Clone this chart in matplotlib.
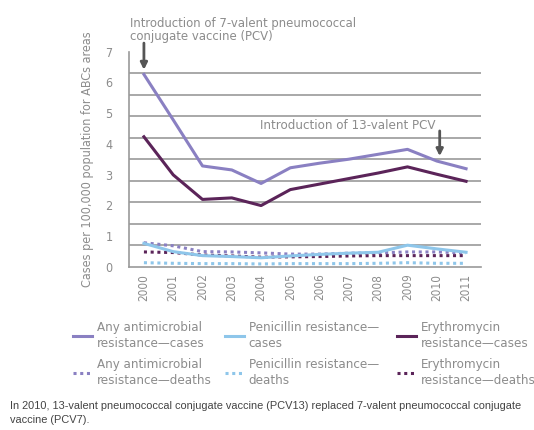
import numpy as np
import matplotlib
matplotlib.use("Agg")
import matplotlib.pyplot as plt
from matplotlib.lines import Line2D

years = [str(y) for y in range(2000, 2012)]

any_cases = [6.26, 4.78, 3.28, 3.15, 2.71, 3.22, 3.37, 3.50, 3.66, 3.82, 3.44, 3.19]
pen_cases = [0.76, 0.49, 0.36, 0.33, 0.29, 0.35, 0.40, 0.44, 0.47, 0.70, 0.58, 0.47]
ery_cases = [4.23, 2.99, 2.19, 2.24, 1.99, 2.51, 2.69, 2.87, 3.05, 3.25, 3.01, 2.78]
any_deaths = [0.78, 0.68, 0.49, 0.48, 0.45, 0.41, 0.41, 0.44, 0.45, 0.48, 0.48, 0.45]
pen_deaths = [0.13, 0.11, 0.10, 0.10, 0.09, 0.10, 0.10, 0.10, 0.11, 0.13, 0.11, 0.11]
ery_deaths = [0.48, 0.46, 0.38, 0.35, 0.31, 0.32, 0.33, 0.35, 0.36, 0.36, 0.36, 0.36]

c_any = "#8a80c2"
c_pen = "#8ec6ea"
c_ery = "#5b2459"
grey = "#8c8c8c"
grid_c = "#9a9a9a"

plt.rcParams['font.family'] = ['DejaVu Sans']
plt.rcParams['font.stretch'] = 'condensed'

fig = plt.figure(figsize=(5.34, 4.30), dpi=100)
ax = fig.add_axes([0.2421, 0.3798, 0.6581, 0.5000])

x = np.arange(len(years))
lw = 2.2
dots = (0, (1, 1.2))
ax.plot(x, any_deaths, color=c_any, lw=lw, ls=dots, zorder=3)
ax.plot(x, ery_deaths, color=c_ery, lw=lw, ls=dots, zorder=3)
ax.plot(x, pen_deaths, color=c_pen, lw=lw, ls=dots, zorder=3)
ax.plot(x, pen_cases, color=c_pen, lw=lw, zorder=4)
ax.plot(x, ery_cases, color=c_ery, lw=lw, zorder=4)
ax.plot(x, any_cases, color=c_any, lw=lw, zorder=4)

ax.set_xlim(-0.5, len(years) - 0.5)
ax.set_ylim(0, 7)

# labels on whole numbers, grid lines every 0.7
ax.set_yticks(range(8))
ax.set_yticks(np.linspace(0, 7, 11), minor=True)
ax.yaxis.grid(True, which='minor', color=grid_c, lw=1.2)
ax.yaxis.grid(False, which='major')
ax.tick_params(axis='y', which='both', length=0, labelsize=9, labelcolor=grey, pad=12)
ax.set_xticks(x)
ax.set_xticklabels(years, rotation=90)
ax.tick_params(axis='x', length=0, labelsize=8.5, labelcolor=grey, pad=5)
for s in ['top', 'right']:
    ax.spines[s].set_visible(False)
for s in ['left', 'bottom']:
    ax.spines[s].set_color(grid_c)
    ax.spines[s].set_linewidth(1.2)

ax.set_ylabel("Cases per 100,000 population for ABCs areas", color=grey, fontsize=9, labelpad=8)

# vaccine introduction arrows
arrow = dict(arrowstyle='-|>', color='#555555', lw=2, mutation_scale=10, shrinkA=0, shrinkB=0)
ax.annotate("", xy=(0, 6.41), xytext=(0, 7.28), arrowprops=arrow, annotation_clip=False)
ax.annotate("", xy=(10.1, 3.6), xytext=(10.1, 4.42), arrowprops=arrow)
fig.text(0.243, 0.961, "Introduction of 7-valent pneumococcal\nconjugate vaccine (PCV)",
         color=grey, fontsize=9.4, va='top', linespacing=1.0)
ax.text(9.95, 4.38, "Introduction of 13-valent PCV", color=grey, fontsize=9.5, ha='right', va='bottom')

# legend: one column per drug, solid = cases, dotted = deaths
columns = [
    (c_any, "Any antimicrobial\nresistance\u2014cases", "Any antimicrobial\nresistance\u2014deaths", 0.1367),
    (c_pen, "Penicillin resistance\u2014\ncases", "Penicillin resistance\u2014\ndeaths", 0.4213),
    (c_ery, "Erythromycin\nresistance\u2014cases", "Erythromycin\nresistance\u2014deaths", 0.743),
]
for color, lab_cases, lab_deaths, xpos in columns:
    handles = [Line2D([], [], color=color, lw=2.2),
               Line2D([], [], color=color, lw=2.2, ls=dots)]
    leg = fig.legend(handles, [lab_cases, lab_deaths], loc='upper left',
                     bbox_to_anchor=(xpos, 0.2535), frameon=False, fontsize=9.5,
                     handlelength=1.45, handletextpad=0.35, labelspacing=0.65,
                     borderpad=0, borderaxespad=0)
    for t in leg.get_texts():
        t.set_color(grey)
        t.set_linespacing(1.28)

fig.text(0.019, 0.068, "In 2010, 13-valent pneumococcal conjugate vaccine (PCV13) replaced 7-valent pneumococcal conjugate\nvaccine (PCV7).",
         fontsize=7.9, color='#444444', family=['Liberation Sans Narrow', 'Liberation Sans'],
         stretch='normal', va='top', linespacing=1.5)

fig.savefig("out.png", dpi=100)
